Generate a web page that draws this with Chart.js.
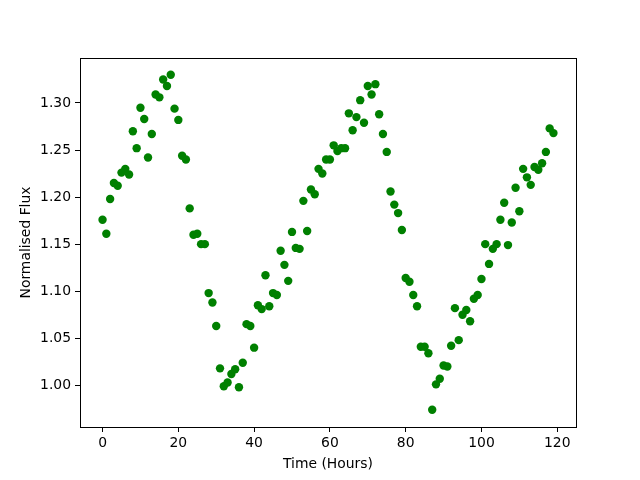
<!DOCTYPE html>
<html>
<head>
<meta charset="utf-8">
<script src="https://cdn.jsdelivr.net/npm/chart.js@4/dist/chart.umd.min.js"></script>
<style>
  html, body { margin: 0; padding: 0; background: #fff; }
  #box { width: 640px; height: 480px; }
</style>
</head>
<body>
<div id="box"><canvas id="grafico"></canvas></div>
<script>
// horas de observacion (0..119) y flujo normalizado
const horas = [];
for (let h = 0; h < 120; h++) horas.push(h);

const flujo = [
  1.176, 1.161, 1.198, 1.215, 1.212, 1.226, 1.230, 1.224, 1.270, 1.252,
  1.295, 1.283, 1.242, 1.267, 1.309, 1.306, 1.325, 1.318, 1.330, 1.294,
  1.282, 1.244, 1.240, 1.188, 1.160, 1.161, 1.150, 1.150, 1.098, 1.088,
  1.063, 1.018, 0.999, 1.003, 1.012, 1.017, 0.998, 1.024, 1.065, 1.063,
  1.040, 1.085, 1.081, 1.117, 1.084, 1.098, 1.096, 1.143, 1.128, 1.111,
  1.163, 1.146, 1.145, 1.196, 1.164, 1.208, 1.203, 1.230, 1.225, 1.240,
  1.240, 1.255, 1.249, 1.252, 1.252, 1.289, 1.271, 1.285, 1.303, 1.279,
  1.318, 1.309, 1.320, 1.288, 1.267, 1.248, 1.206, 1.192, 1.183, 1.165,
  1.114, 1.110, 1.096, 1.084, 1.041, 1.041, 1.034, 0.974, 1.001, 1.007,
  1.021, 1.020, 1.042, 1.082, 1.048, 1.075, 1.080, 1.068, 1.092, 1.096,
  1.113, 1.150, 1.129, 1.145, 1.150, 1.176, 1.194, 1.149, 1.173, 1.210,
  1.185, 1.230, 1.221, 1.213, 1.232, 1.229, 1.236, 1.248, 1.273, 1.268
];

const ticksX = [0, 20, 40, 60, 80, 100, 120];
const ticksY = [1.00, 1.05, 1.10, 1.15, 1.20, 1.25, 1.30];

const puntos = horas.map((h, i) => ({ x: h, y: flujo[i] }));

const fuente = { family: "'DejaVu Sans'", size: 13.9 };

// marco completo alrededor del area del grafico (como los ejes de matplotlib)
const marco = {
  id: 'marco',
  afterDraw(chart) {
    const { ctx, chartArea: a } = chart;
    ctx.save();
    ctx.strokeStyle = '#000';
    ctx.lineWidth = 1;
    ctx.strokeRect(Math.round(a.left) + 0.5, Math.round(a.top) + 0.5,
      Math.round(a.right - a.left), Math.round(a.bottom - a.top));
    ctx.restore();
  }
};

const grafico = document.getElementById('grafico').getContext('2d');

window.graficaFlujo = new Chart(grafico, {
  type: 'scatter',
  data: {
    datasets: [{
      label: 'Flux',
      data: puntos,
      backgroundColor: '#008000',
      borderWidth: 0,
      pointRadius: 4.2,
      pointHoverRadius: 4.2
    }]
  },
  options: {
    responsive: true,
    maintainAspectRatio: false,
    animation: false,
    layout: { padding: { left: 0, top: 58, right: 64, bottom: 0 } },
    plugins: { legend: { display: false }, tooltip: { enabled: false } },
    scales: {
      x: {
        type: 'linear',
        min: -5.95,
        max: 124.95,
        afterBuildTicks: (s) => { s.ticks = ticksX.map(v => ({ value: v })); },
        afterFit: (s) => { s.height = 53; },
        grid: { drawOnChartArea: false, drawTicks: true, tickLength: 5, tickColor: '#000' },
        border: { color: '#000', width: 1 },
        ticks: { color: '#000', font: fuente, padding: 3, maxRotation: 0,
          callback: (v) => String(v) },
        title: { display: true, text: 'Time (Hours)', color: '#000', font: fuente,
          padding: { top: 0, bottom: 7 } }
      },
      y: {
        type: 'linear',
        min: 0.9557,
        max: 1.3478,
        afterBuildTicks: (s) => { s.ticks = ticksY.map(v => ({ value: v })); },
        afterFit: (s) => { s.width = 80; },
        grid: { drawOnChartArea: false, drawTicks: true, tickLength: 5, tickColor: '#000' },
        border: { color: '#000', width: 1 },
        ticks: { color: '#000', font: fuente, padding: 4,
          callback: (v) => Number(v).toFixed(2) },
        title: { display: true, text: 'Normalised Flux', color: '#000', font: fuente,
          padding: { top: 18, bottom: 0 } }
      }
    }
  },
  plugins: [marco]
});
</script>
</body>
</html>
